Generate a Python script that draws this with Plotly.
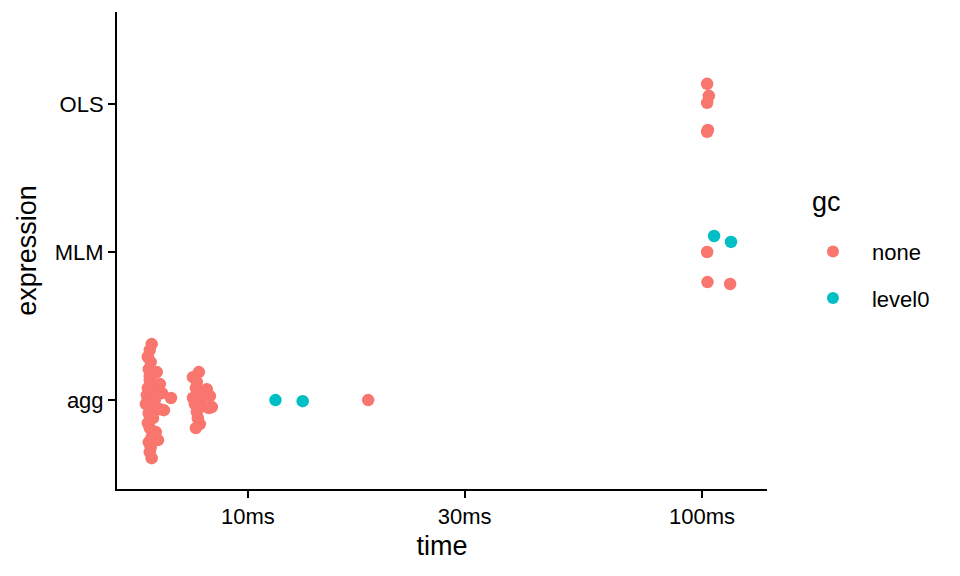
import plotly.graph_objects as go

categories = ["agg", "MLM", "OLS"]
cat_pos = {"agg": 1, "MLM": 2, "OLS": 3}
tick_vals_ms = [10, 30, 100]
tick_labels = ["10ms", "30ms", "100ms"]
gc_levels = ["none", "level0"]
gc_colors = {"none": "#F8766D", "level0": "#00BFC4"}

# agg, gc = none  (time in ms, beeswarm offset in category units)
agg_none_time = [6.14, 6.08, 6.02, 6.11, 6.05, 6.30, 6.08, 6.08, 6.14, 6.40, 6.02, 6.21,
                 6.47, 5.99, 6.08, 6.02, 6.24, 6.77, 5.96, 6.21, 6.08, 6.40, 6.53, 6.05,
                 6.08, 6.18, 6.02, 6.08, 6.27, 6.34, 6.14, 6.05, 6.11, 6.08, 6.14,
                 7.80, 7.57, 7.72, 7.68, 8.12, 7.57, 7.84, 8.25, 7.88, 7.64, 7.96, 8.21,
                 8.33, 7.72, 7.76, 7.84, 7.68,
                 18.4]
agg_none_off = [0.378, 0.338, 0.291, 0.257, 0.209, 0.189, 0.162, 0.135, 0.122, 0.108, 0.081, 0.061,
                0.047, 0.034, 0.027, 0.0, 0.0, 0.014, -0.027, -0.027, -0.041, -0.061, -0.068, -0.088,
                -0.101, -0.122, -0.155, -0.189, -0.216, -0.270, -0.250, -0.284, -0.318, -0.351, -0.392,
                0.189, 0.155, 0.122, 0.081, 0.074, 0.014, 0.027, 0.027, -0.014, -0.027, -0.041, -0.054,
                -0.047, -0.081, -0.122, -0.162, -0.189,
                0.0]
# agg, gc = level0
agg_l0_time = [11.5, 13.2]
agg_l0_off = [0.0, -0.007]

# MLM
mlm_none_time = [102.6, 102.8, 115.3]
mlm_none_off = [0.0, -0.203, -0.216]
mlm_l0_time = [106.3, 115.8]
mlm_l0_off = [0.108, 0.068]

# OLS
ols_none_time = [102.6, 103.5, 102.6, 103.0, 102.6]
ols_none_off = [0.135, 0.054, 0.007, -0.176, -0.189]

none_x = agg_none_time + mlm_none_time + ols_none_time
none_y = ([cat_pos["agg"] + o for o in agg_none_off]
          + [cat_pos["MLM"] + o for o in mlm_none_off]
          + [cat_pos["OLS"] + o for o in ols_none_off])
l0_x = agg_l0_time + mlm_l0_time
l0_y = ([cat_pos["agg"] + o for o in agg_l0_off]
        + [cat_pos["MLM"] + o for o in mlm_l0_off])

font_family = "Liberation Sans, Arial, sans-serif"

fig = go.Figure()
fig.add_trace(go.Scatter(x=none_x, y=none_y, mode="markers", name="none",
                         legendgroup="none",
                         marker=dict(color=gc_colors["none"], size=12.5, line=dict(width=0))))
fig.add_trace(go.Scatter(x=l0_x, y=l0_y, mode="markers", name="level0",
                         legendgroup="level0",
                         marker=dict(color=gc_colors["level0"], size=12.5, line=dict(width=0))))

fig.update_layout(
    width=960, height=576,
    margin=dict(l=109, r=201, t=4, b=95),
    paper_bgcolor="white", plot_bgcolor="white",
    font=dict(family=font_family, color="black"),
    showlegend=True,
    legend=dict(
        font=dict(size=22),
        x=1.0415, xanchor="left", y=0.5416, yanchor="top",
        tracegroupgap=15, itemsizing="constant", itemwidth=68,
        bgcolor="rgba(0,0,0,0)",
    ),
    annotations=[dict(text="gc", xref="paper", yref="paper", x=1.066, y=0.602,
                      xanchor="left", yanchor="middle", showarrow=False,
                      font=dict(size=27, color="black"))],
)
fig.update_xaxes(
    type="log", range=[0.7118, 2.143],
    tickvals=tick_vals_ms, ticktext=tick_labels,
    showline=True, linecolor="black", linewidth=2,
    ticks="outside", ticklen=7, tickwidth=2, tickcolor="black",
    showgrid=False, zeroline=False, automargin=False,
    tickfont=dict(size=22, color="black"),
    title=dict(text="time", font=dict(size=27), standoff=8),
)
fig.update_yaxes(
    range=[0.4, 3.62],
    tickvals=[cat_pos[c] for c in categories], ticktext=categories,
    showline=True, linecolor="black", linewidth=2,
    ticks="outside", ticklen=7, tickwidth=2, tickcolor="black",
    showgrid=False, zeroline=False, automargin=False,
    tickfont=dict(size=22, color="black"),
    title=dict(text="expression", font=dict(size=27), standoff=10),
)

fig.write_html("out.html")
